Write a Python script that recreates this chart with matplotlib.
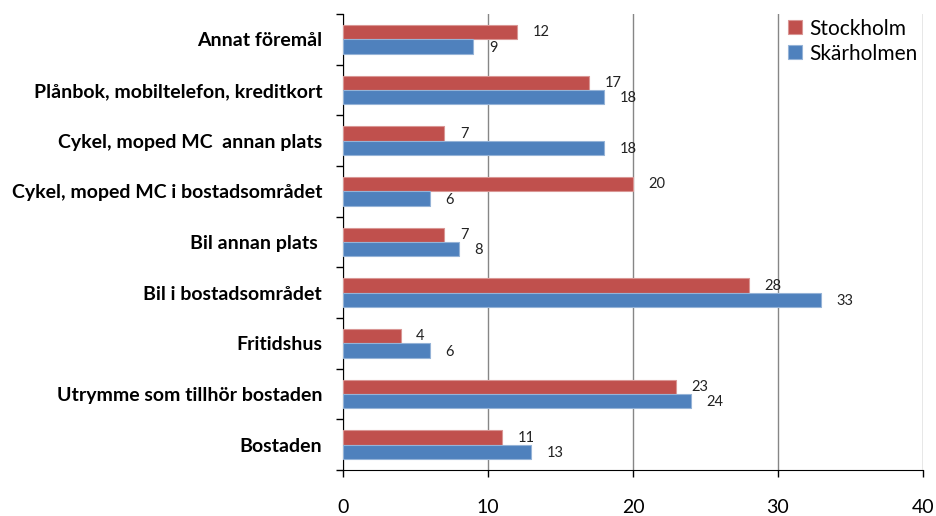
import numpy as np
import matplotlib
matplotlib.use('Agg')
import matplotlib.pyplot as plt

# Categories, bottom to top
categories = ['Bostaden', 'Utrymme som tillhör bostaden', 'Fritidshus',
              'Bil i bostadsområdet', 'Bil annan plats ',
              'Cykel, moped MC i bostadsområdet', 'Cykel, moped MC  annan plats',
              'Plånbok, mobiltelefon, kreditkort', 'Annat föremål']
stockholm = [11, 23, 4, 28, 7, 20, 7, 17, 12]
skarholmen = [13, 24, 6, 33, 8, 6, 18, 18, 9]
x_ticks = [0, 10, 20, 30, 40]

plt.rcParams['font.family'] = ['Lato', 'DejaVu Sans']

fig = plt.figure(figsize=(9.37, 5.16), dpi=100)
ax = fig.add_axes([343 / 937, 1 - 470 / 516, 580 / 937, 456 / 516])

y = np.arange(len(categories))
h = 0.28
ax.barh(y + h / 2, stockholm, height=h, color='#C0504D', edgecolor='#D99694',
        linewidth=0.8, label='Stockholm', zorder=3)
ax.barh(y - h / 2, skarholmen, height=h, color='#4F81BD', edgecolor='#95B3D7',
        linewidth=0.8, label='Skärholmen', zorder=3)

# value labels to the right of each bar
for i in range(len(categories)):
    ax.annotate(str(stockholm[i]), (stockholm[i], y[i] + h / 2), xytext=(11, 0),
                textcoords='offset points', va='center', ha='left', fontsize=10.5,
                color='#222222')
    ax.annotate(str(skarholmen[i]), (skarholmen[i], y[i] - h / 2), xytext=(11, -1),
                textcoords='offset points', va='center', ha='left', fontsize=10.5,
                color='#222222')

ax.set_xlim(0, 40)
ax.set_ylim(-0.5, len(categories) - 0.5)
ax.set_xticks(x_ticks)
ax.set_xticklabels([str(t) for t in x_ticks], fontsize=14)
ax.tick_params(axis='x', direction='out', length=5, pad=16, width=1)

ax.set_yticks(np.arange(-0.5, len(categories), 1))
ax.set_yticklabels([])
ax.set_yticks(y, minor=True)
ax.set_yticklabels(categories, minor=True, fontsize=14, fontweight='bold')
ax.tick_params(axis='y', which='major', direction='out', length=5, width=1)
ax.tick_params(axis='y', which='minor', length=0, pad=15)

ax.spines['top'].set_visible(False)
ax.spines['right'].set_visible(False)
ax.xaxis.grid(True, color='#868686', linewidth=1, zorder=0)
ax.set_axisbelow(True)

ax.legend(loc='upper left', bbox_to_anchor=(0.768, 0.99), frameon=False,
          fontsize=15, handlelength=0.65, handleheight=0.65, handletextpad=0.35,
          labelspacing=0.25, borderpad=0, borderaxespad=0)

fig.savefig('out.png', dpi=100)
